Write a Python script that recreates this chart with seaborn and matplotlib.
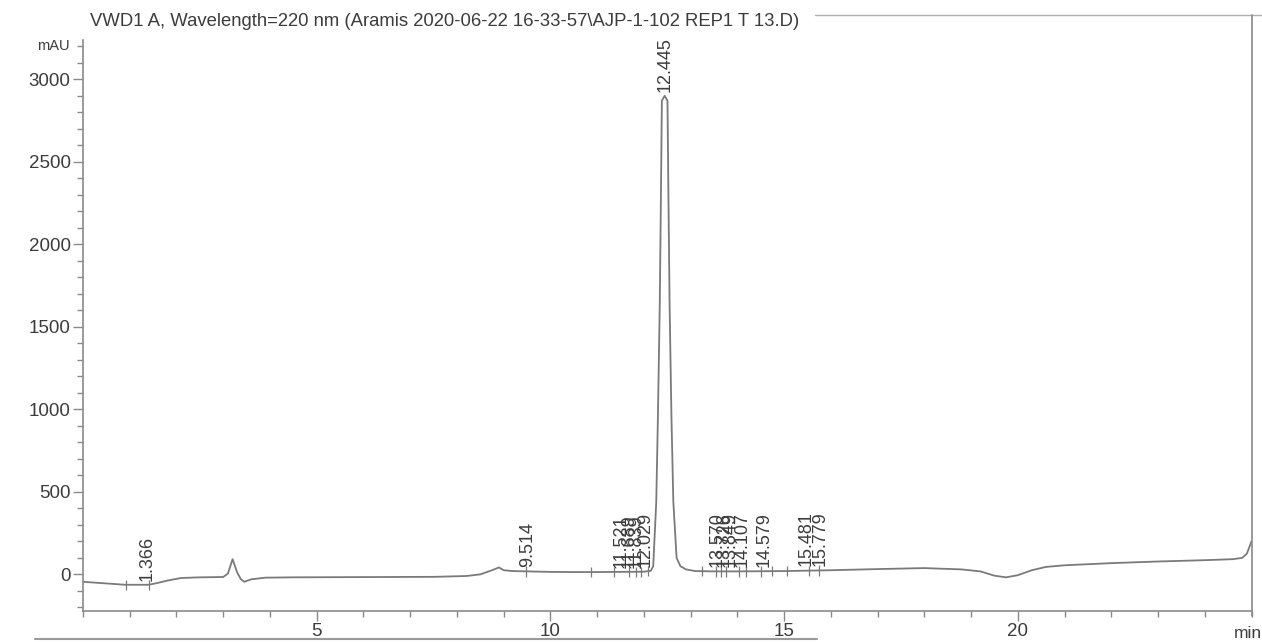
import numpy as np
import matplotlib
matplotlib.use("Agg")
import matplotlib.pyplot as plt
from matplotlib.lines import Line2D
from matplotlib.ticker import MultipleLocator, FixedLocator
import seaborn as sns

# trace (time in min, signal in mAU)
time_min = [0.0, 0.5, 0.9, 1.4, 1.55, 1.8, 2.1, 2.5, 3.0, 3.1, 3.2, 3.3, 3.38,
            3.45, 3.6, 3.9, 4.5, 5.5, 6.5, 7.5, 8.2, 8.5, 8.75, 8.9, 9.0, 9.2,
            9.5, 10.0, 10.5, 11.0, 11.5, 12.0, 12.15, 12.2, 12.265, 12.3,
            12.34, 12.365, 12.385, 12.445, 12.505, 12.525, 12.55, 12.59, 12.63,
            12.7, 12.78, 12.9, 13.1, 13.5, 14.0, 15.0, 16.0, 17.0, 18.0, 18.8,
            19.2, 19.5, 19.75, 20.0, 20.3, 20.6, 21.0, 22.0, 23.0, 24.0, 24.6,
            24.8, 24.9, 25.0]
signal_mau = [-45, -55, -63, -63, -55, -38, -22, -18, -16, 5, 92, 10, -30,
              -45, -30, -20, -18, -17, -16, -15, -10, 0, 25, 42, 25, 20,
              18, 15, 14, 14, 15, 16, 22, 50, 440, 950,
              1640, 2300, 2870, 2900, 2870, 2300, 1640, 950, 440,
              100, 50, 30, 20, 18, 18, 20, 25, 32, 38, 30,
              18, -8, -18, -5, 25, 45, 55, 68, 78, 86, 92,
              100, 125, 200]

peak_rt = [1.366, 9.514, 11.521, 11.689, 11.839, 12.029, 12.445, 13.570,
           13.726, 13.849, 14.107, 14.579, 15.481, 15.779]

# integration start/stop marks
event_rt = [0.93, 1.42, 9.48, 10.87, 11.37, 11.69, 11.83, 11.94, 12.08, 13.25,
            13.54, 13.65, 13.75, 14.04, 14.18, 14.50, 14.75, 15.07, 15.53, 15.75]

title = "VWD1 A, Wavelength=220 nm (Aramis 2020-06-22 16-33-57\\AJP-1-102 REP1 T 13.D)"

sns.set_theme(style="ticks")
plt.rcParams['font.family'] = ['Liberation Sans', 'DejaVu Sans']

txt = "#3c3c3c"
axc = "#8a8a8a"
linec = "#7a7a7a"

W, H = 1262, 642
fig = plt.figure(figsize=(W / 100, H / 100), dpi=100)
ax = fig.add_axes([83 / W, 1 - 611 / H, (1251.5 - 83) / W, (611 - 40) / H])

sns.lineplot(x=time_min, y=signal_mau, ax=ax, color=linec, linewidth=1.3,
             estimator=None, sort=False)

# integration marks
ev_y = np.interp(event_rt, time_min, signal_mau)
ax.vlines(event_rt, ev_y - 32, ev_y + 30, color=linec, linewidth=0.9)

# retention time labels
pk_y = np.interp(peak_rt, time_min, signal_mau)
for rt, y in zip(peak_rt, pk_y):
    ax.annotate(f"{rt:.3f}", (rt, y), xytext=(0, 3), textcoords="offset points",
                rotation=90, ha="center", va="bottom", fontsize=13,
                color=txt, annotation_clip=False)

ax.set_xlim(0, 25)
ax.set_ylim(-222, 3238)
ax.xaxis.set_major_locator(FixedLocator([5, 10, 15, 20]))
ax.xaxis.set_minor_locator(MultipleLocator(1))
ax.yaxis.set_major_locator(FixedLocator([0, 500, 1000, 1500, 2000, 2500, 3000]))
ax.yaxis.set_minor_locator(MultipleLocator(100))
ax.tick_params(axis="both", which="major", length=7, width=1, color=axc,
               labelcolor=txt, labelsize=13.5, pad=2)
ax.tick_params(axis="both", which="minor", length=4, width=1, color=axc)
ax.set_xlabel("")
ax.set_ylabel("")
for side in ["top", "right"]:
    ax.spines[side].set_visible(False)
for side in ["left", "bottom"]:
    ax.spines[side].set_color(axc)
    ax.spines[side].set_linewidth(1.2)

fig.text(90 / W, 1 - 22 / H, title, ha="left", va="center", fontsize=13.3, color=txt)
fig.text(70 / W, 1 - 46 / H, "mAU", ha="right", va="center", fontsize=10.5, color=txt)
fig.text(1, 1 - 633 / H, "min", ha="right", va="center", fontsize=12.5, color=txt)

# frame and page lines from the printout
fig.add_artist(Line2D([815 / W, 1], [1 - 15 / H, 1 - 15 / H],
                      color="#b0b0b0", linewidth=1))
fig.add_artist(Line2D([1251.5 / W, 1251.5 / W], [1 - 15 / H, 1 - 616 / H],
                      color=axc, linewidth=1.2))
fig.add_artist(Line2D([35 / W, 817 / W], [1 - 639 / H, 1 - 639 / H],
                      color="#9a9a9a", linewidth=1.5))

fig.savefig("out.png", dpi=100)
